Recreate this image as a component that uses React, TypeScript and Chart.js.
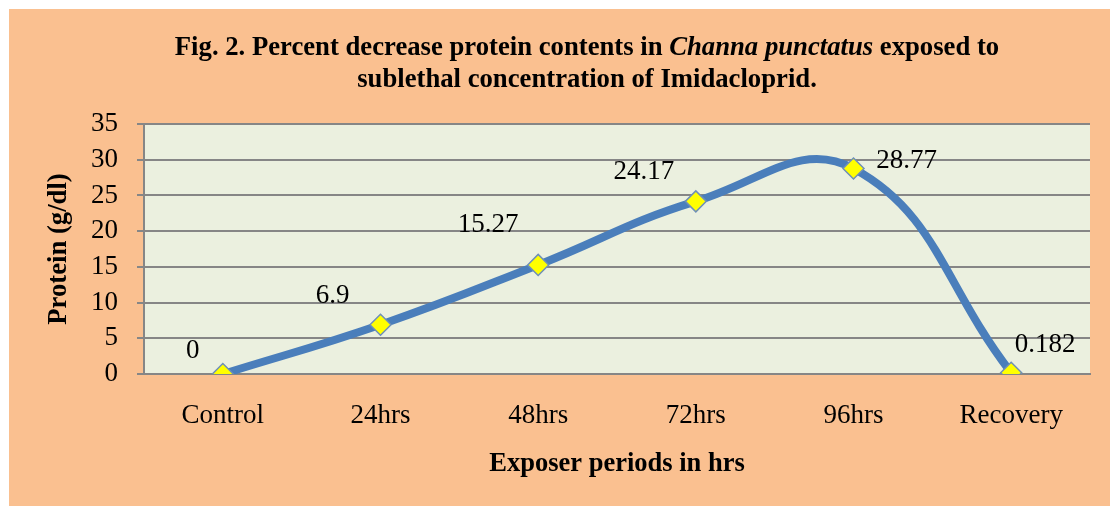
import React, { useEffect, useRef } from 'react';
import { Chart, registerables } from 'chart.js';

Chart.register(...registerables);

const categories = ['Control', '24hrs', '48hrs', '72hrs', '96hrs', 'Recovery'];
const proteinValues = [0, 6.9, 15.27, 24.17, 28.77, 0.182];
const valueLabels = ['0', '6.9', '15.27', '24.17', '28.77', '0.182'];
const yMin = 0;
const yMax = 35;
const yStep = 5;
const titleLine1 = [
  { text: 'Fig. 2. Percent decrease protein contents in ', italic: false },
  { text: 'Channa punctatus', italic: true },
  { text: ' exposed to', italic: false },
];
const titleLine2 = [{ text: 'sublethal concentration of Imidacloprid.', italic: false }];
const yAxisTitle = 'Protein (g/dl)';
const xAxisTitle = 'Exposer periods in hrs';

const FONT = "'Liberation Serif', 'Times New Roman', serif";

const backgroundPlugin = {
  id: 'bgPlugin',
  beforeDraw(chart: any) {
    const { ctx, chartArea, width, height } = chart;
    ctx.save();
    ctx.fillStyle = '#FAC090';
    ctx.fillRect(0, 0, width, height);
    ctx.fillStyle = '#EBF0DF';
    ctx.fillRect(chartArea.left, chartArea.top, chartArea.right - chartArea.left, chartArea.bottom - chartArea.top);
    ctx.restore();
  },
};

const titlePlugin = {
  id: 'titlePlugin',
  afterDraw(chart: any) {
    const { ctx } = chart;
    const centerX = 578;
    const lines = [
      { parts: titleLine1, y: 46 },
      { parts: titleLine2, y: 78 },
    ];
    ctx.save();
    ctx.fillStyle = '#000';
    ctx.textBaseline = 'alphabetic';
    ctx.textAlign = 'left';
    for (const line of lines) {
      const fonts = line.parts.map((p) => `${p.italic ? 'italic ' : ''}bold 26.7px ${FONT}`);
      let total = 0;
      const widths = line.parts.map((p, i) => {
        ctx.font = fonts[i];
        const w = ctx.measureText(p.text).width;
        total += w;
        return w;
      });
      let x = centerX - total / 2;
      line.parts.forEach((p, i) => {
        ctx.font = fonts[i];
        ctx.fillText(p.text, x, line.y);
        x += widths[i];
      });
    }
    ctx.restore();
  },
};

const labelPlugin = {
  id: 'labelPlugin',
  afterDatasetsDraw(chart: any) {
    const { ctx } = chart;
    const meta = chart.getDatasetMeta(0);
    const offsets = [
      [-30, -16],
      [-48, -22],
      [-50, -33],
      [-52, -22],
      [53, -1],
      [34, -21],
    ];
    ctx.save();
    ctx.font = `27px ${FONT}`;
    ctx.fillStyle = '#000';
    ctx.textAlign = 'center';
    ctx.textBaseline = 'alphabetic';
    meta.data.forEach((pt: any, i: number) => {
      const [dx, dy] = offsets[i];
      ctx.fillText(valueLabels[i], pt.x + dx, pt.y + dy);
    });
    ctx.restore();
  },
};

export default function App() {
  const canvasRef = useRef<HTMLCanvasElement | null>(null);

  useEffect(() => {
    if (!canvasRef.current) return;
    const gridColor = '#868686';
    const chart = new Chart(canvasRef.current, {
      type: 'line',
      data: {
        labels: categories,
        datasets: [
          {
            data: proteinValues,
            borderColor: '#4A7EBB',
            borderWidth: 8,
            tension: 0.43,
            fill: false,
            pointStyle: 'rectRot',
            pointRadius: 10.5,
            pointHoverRadius: 10.5,
            pointBackgroundColor: '#FFFF00',
            pointBorderColor: '#6F8FB8',
            pointBorderWidth: 1.5,
          },
        ],
      },
      options: {
        animation: false,
        responsive: true,
        maintainAspectRatio: false,
        layout: { padding: { top: 115, right: 20, left: 0, bottom: 0 } },
        plugins: {
          legend: { display: false },
          tooltip: { enabled: false },
          title: { display: false },
        },
        scales: {
          x: {
            offset: true,
            grid: { display: false, drawTicks: false },
            border: { display: true, color: gridColor, width: 2 },
            ticks: { padding: 26, color: '#000', font: { family: FONT, size: 27 } },
            title: {
              display: true,
              text: xAxisTitle,
              color: '#000',
              font: { family: FONT, size: 26.5, weight: 'bold' },
              padding: { top: 0, bottom: 26 },
            },
            afterFit: (s: any) => {
              s.height = 132;
            },
          },
          y: {
            min: yMin,
            max: yMax,
            ticks: { stepSize: yStep, padding: 19, color: '#000', font: { family: FONT, size: 27 } },
            grid: { color: gridColor, lineWidth: 2, tickLength: 7, drawTicks: true },
            border: { display: true, color: gridColor, width: 2 },
            title: {
              display: true,
              text: yAxisTitle,
              color: '#000',
              font: { family: FONT, size: 26.7, weight: 'bold' },
              padding: { top: 34, bottom: 0 },
            },
            afterFit: (s: any) => {
              s.width = 135;
            },
          },
        },
      },
      plugins: [backgroundPlugin, titlePlugin, labelPlugin],
    } as any);
    return () => chart.destroy();
  }, []);

  return (
    <div style={{ position: 'absolute', left: 9, top: 9, width: 1101, height: 497, background: '#FAC090' }}>
      <canvas ref={canvasRef} />
    </div>
  );
}
